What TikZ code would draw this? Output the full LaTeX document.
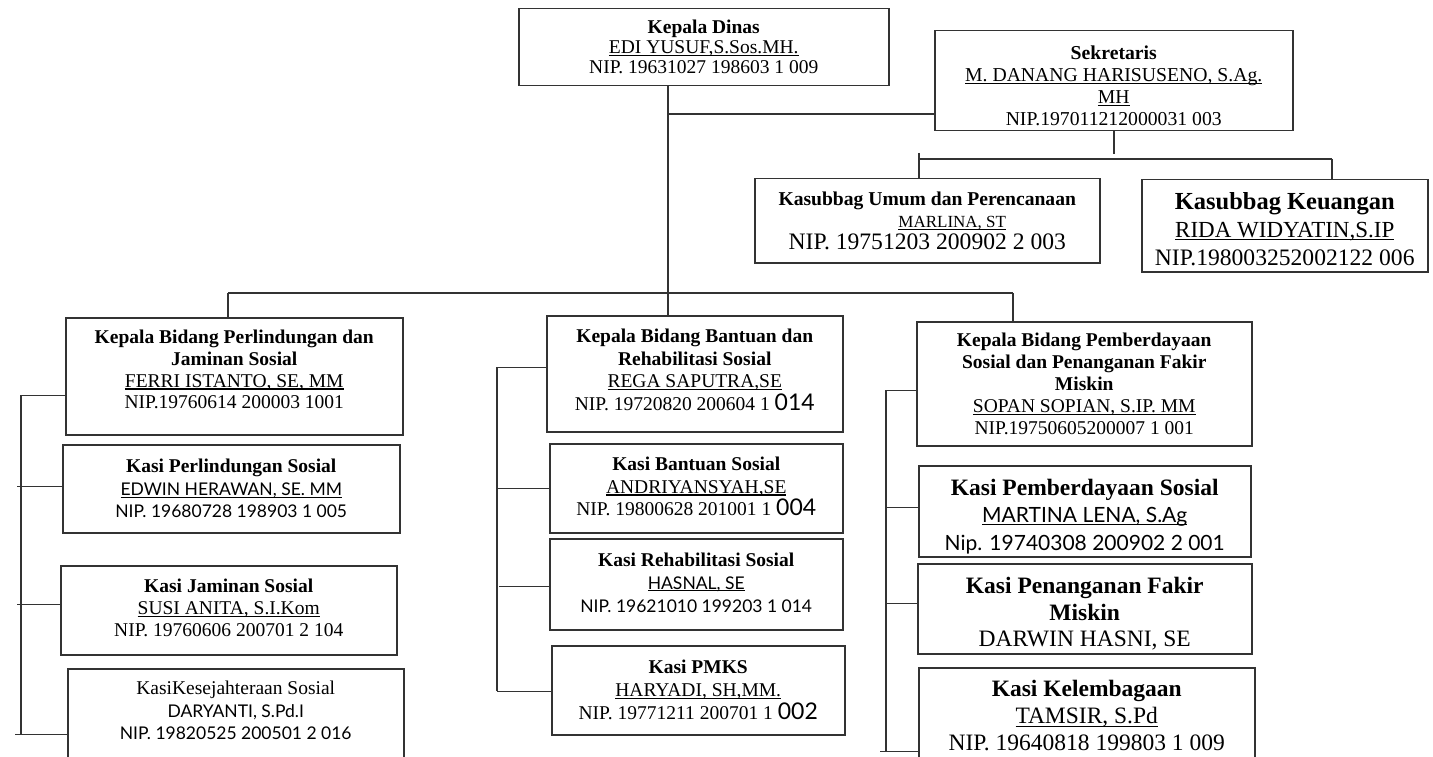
\documentclass[tikz,border=0pt]{standalone}
\usepackage{fontspec}
\setmainfont{Liberation Serif}
\newfontfamily\latofont{Lato}
\newcommand{\fs}[2]{\fontsize{#1}{#2}\selectfont}
\newcommand{\nama}[1]{\sbox0{#1}\rlap{\rule[-0.13em]{\wd0}{0.06em}}\usebox0}
\newcommand{\lato}[2]{{\latofont\fontsize{#1}{#1}\selectfont #2}}
\newcommand{\dn}[1]{\rule[-#1pt]{0pt}{#1pt}}
\newcommand{\up}[1]{\rule{0pt}{#1pt}}
\tikzset{
  jabatan/.style={rectangle, draw=black!80, line width=1.5pt, align=center,
                  anchor=north west, inner sep=0pt},
  garis/.style={draw=black!80, line width=1.3pt}
}

\begin{document}
\begin{tikzpicture}[x=1pt, y=-1pt]
 \useasboundingbox (0,0) rectangle (1433,757);
 \clip (0,0) rectangle (1433,757);
 \fill[white] (0,0) rectangle (1433,757);
 % pimpinan dan sekretariat
 \node[jabatan, minimum width=370, minimum height=77, font=\fs{19.5}{20}] (kadis) at (518,8)
   {\textbf{Kepala Dinas}\\\nama{EDI YUSUF,S.Sos.MH.}\\NIP. 19631027 198603 1 009};
 \node[jabatan, minimum width=358, minimum height=100, font=\fs{19.7}{22}] (sekr) at (934,30)
   {\up{24}\textbf{Sekretaris}\\\nama{M. DANANG HARISUSENO, S.Ag.}\\\nama{MH}\\NIP.197011212000031 003};
 \node[jabatan, minimum width=345, minimum height=84, font=\fs{19.6}{22}] (umum) at (754,178)
   {\textbf{Kasubbag Umum dan Perencanaan}\\{\fontsize{17}{22}\selectfont\hspace*{50pt}\nama{MARLINA, ST}}\\
    {\fontsize{23.6}{22}\selectfont NIP. 19751203 200902 2 003}};
 \node[jabatan, minimum width=286, minimum height=92, font=\fs{23}{28}] (keu) at (1141,179)
   {\up{22.9}{\fontsize{24.5}{28}\selectfont\bfseries Kasubbag Keuangan}\\\nama{RIDA WIDYATIN,S.IP}\\
    {\fontsize{23.6}{28}\selectfont NIP.198003252002122 006}};
 % bidang perlindungan dan jaminan sosial
 \node[jabatan, minimum width=337, minimum height=117, font=\fs{19.5}{21.7}] (kb1) at (65,317)
   {\textbf{Kepala Bidang Perlindungan dan}\\\textbf{Jaminan Sosial}\\\nama{FERRI ISTANTO, SE, MM}\\
    NIP.19760614 200003 1001\dn{13.5}};
 \node[jabatan, minimum width=337, minimum height=88, font=\fs{19.5}{22.5}] (ks11) at (62,444)
   {\textbf{Kasi Perlindungan Sosial}\\\lato{17.5}{\nama{EDWIN HERAWAN, SE. MM}}\\
    \lato{17.5}{NIP. 19680728 198903 1 005}};
 \node[jabatan, minimum width=336, minimum height=89, font=\fs{19.5}{22}] (ks12) at (60,565)
   {\textbf{Kasi Jaminan Sosial}\\\nama{SUSI ANITA, S.I.Kom}\\NIP. 19760606 200701 2 104\dn{5}};
 \node[jabatan, minimum width=336, minimum height=120, font=\fs{19.5}{22.5}] (ks13) at (67,668)
   {KasiKesejahteraan Sosial\\\lato{17.5}{DARYANTI, S.Pd.I}\\
    \lato{17.5}{NIP. 19820525 200501 2 016}\dn{36.5}};
 % bidang bantuan dan rehabilitasi sosial
 \node[jabatan, minimum width=296, minimum height=116, font=\fs{19.5}{22.5}] (kb2) at (546,315)
   {\textbf{Kepala Bidang Bantuan dan}\\\textbf{Rehabilitasi Sosial}\\\nama{REGA SAPUTRA,SE}\\
    NIP. 19720820 200604 1 \lato{23}{014}\dn{8}};
 \node[jabatan, minimum width=293, minimum height=89, font=\fs{19.5}{22.5}] (ks21) at (549,443)
   {\textbf{Kasi Bantuan Sosial}\\\nama{ANDRIYANSYAH,SE}\\NIP. 19800628 201001 1 \lato{23}{004}\dn{4}};
 \node[jabatan, minimum width=293, minimum height=91, font=\fs{19.5}{23}] (ks22) at (549,538)
   {\textbf{Kasi Rehabilitasi Sosial}\\\lato{17.5}{\nama{HASNAL, SE}}\\
    \lato{17.5}{NIP. 19621010 199203 1 014}\dn{4}};
 \node[jabatan, minimum width=293, minimum height=89, font=\fs{19.5}{23}] (ks23) at (551,645)
   {\textbf{Kasi PMKS}\\\nama{HARYADI, SH,MM.}\\NIP. 19771211 200701 1 \lato{23}{002}};
 % bidang pemberdayaan sosial dan penanganan fakir miskin
 \node[jabatan, minimum width=335, minimum height=124, font=\fs{19.5}{22}] (kb3) at (916,321)
   {\textbf{Kepala Bidang Pemberdayaan}\\\textbf{Sosial dan Penanganan Fakir}\\\textbf{Miskin}\\
    \nama{SOPAN SOPIAN, S.IP. MM}\\NIP.19750605200007 1 001};
 \node[jabatan, minimum width=332, minimum height=91, font=\fs{21}{27.5}] (ks31) at (918,465)
   {\up{26.2}{\fontsize{23.5}{27.5}\selectfont\bfseries Kasi Pemberdayaan Sosial}\\
    \lato{21}{\nama{MARTINA LENA, S.Ag}}\\\lato{21}{Nip. 19740308 200902 2 001}};
 \node[jabatan, minimum width=334, minimum height=90, font=\fs{23.5}{26.5}] (ks32) at (917,563)
   {\up{26.2}\textbf{Kasi Penanganan Fakir}\\\textbf{Miskin}\\DARWIN HASNI, SE};
 \node[jabatan, minimum width=336, minimum height=120, font=\fs{23.5}{27}] (ks33) at (918,667)
   {\textbf{Kasi Kelembagaan}\\\nama{TAMSIR, S.Pd}\\NIP. 19640818 199803 1 009\dn{24}};

 % garis komando
 \coordinate (j0) at (668,114);
 \coordinate (j1) at (668,293);
 \coordinate (sb) at (1114,154);
 \coordinate (ub) at (919,159);
 \coordinate (kb) at (1332,159);
 \coordinate (b1) at (228,293);
 \coordinate (b3) at (1013,293);
 \draw[garis] (j1 |- kadis.south) -- (j1 |- kb2.north);
 \draw[garis] (j0) -- (j0 -| sekr.west);
 \draw[garis] (sb |- sekr.south) -- (sb);
 \draw[garis] (ub) -- (kb);
 \draw[garis] (919,153) -- (ub |- umum.north);
 \draw[garis] (kb) -- (kb |- keu.north);
 \draw[garis] (b1) -- (b3);
 \draw[garis] (b1) -- (b1 |- kb1.north);
 \draw[garis] (b3) -- (b3 |- kb3.north);

 % garis koordinasi kasi
 \coordinate (s1) at (21,395);   \coordinate (e1) at (17,0);
 \coordinate (s2) at (497,367);
 \coordinate (s3) at (886,390);  \coordinate (e3) at (880,0);
 \draw[garis] (s1) -- (21,734);
 \draw[garis] (s2) -- (497,691);
 \draw[garis] (s3) -- (886,751);
 \draw[garis] (kb1.west) ++(0,19.5) coordinate (c) -- (c -| s1);
 \draw[garis] (ks11.west) ++(0,-2) coordinate (c) -- (c -| e1);
 \draw[garis] (ks12.west) ++(0,-5.5) coordinate (c) -- (c -| e1);
 \draw[garis] (ks13.west) ++(0,6) coordinate (c) -- (c -| 15,0);
 \draw[garis] (kb2.west) ++(0,-6) coordinate (c) -- (c -| s2);
 \draw[garis] (ks21.west) coordinate (c) -- (c -| s2);
 \draw[garis] (ks22.west) ++(0,2.5) coordinate (c) -- (c -| 499,0);
 \draw[garis] (ks23.west) ++(0,1.5) coordinate (c) -- (c -| s2);
 \draw[garis] (kb3.west) ++(0,7) coordinate (c) -- (c -| s3);
 \draw[garis] (ks31.west) ++(0,-3.5) coordinate (c) -- (c -| s3);
 \draw[garis] (ks32.west) ++(0,-5) coordinate (c) -- (c -| s3);
 \draw[garis] (ks33.west) ++(0,24) coordinate (c) -- (c -| e3);
\end{tikzpicture}
\end{document}
